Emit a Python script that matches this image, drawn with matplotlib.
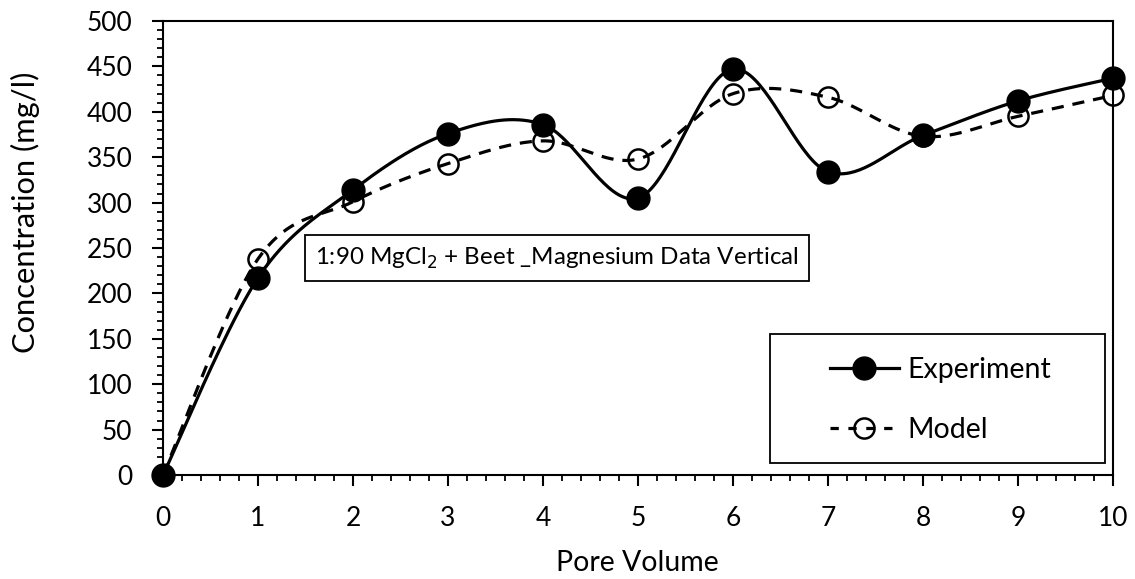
import numpy as np
import matplotlib.pyplot as plt
from matplotlib.lines import Line2D
from matplotlib.patches import Rectangle
from matplotlib.ticker import MultipleLocator

plt.rcParams['font.family'] = ['Lato', 'DejaVu Sans']

pore_volume = [0, 1, 2, 3, 4, 5, 6, 7, 8, 9, 10]
experiment = [0, 217, 314, 376, 386, 305, 447, 334, 374, 412, 437]
model = [0, 238, 301, 343, 368, 348, 420, 416, 373, 395, 418]

W, H = 1135, 579


def smooth_curve(x, y, n=40):
    """Bezier smoothing through every point, like a spreadsheet 'smoothed line'."""
    pts = np.column_stack([np.asarray(x, float), np.asarray(y, float)])
    out = []
    for i in range(len(pts) - 1):
        p0 = pts[max(i - 1, 0)]
        p1 = pts[i]
        p2 = pts[i + 1]
        p3 = pts[min(i + 2, len(pts) - 1)]
        c1 = p1 + (p2 - p0) / 6.0
        c2 = p2 - (p3 - p1) / 6.0
        t = np.linspace(0, 1, n)[:, None]
        seg = ((1 - t) ** 3) * p1 + 3 * ((1 - t) ** 2) * t * c1 + 3 * (1 - t) * t ** 2 * c2 + t ** 3 * p2
        out.append(seg if i == 0 else seg[1:])
    seg = np.vstack(out)
    return seg[:, 0], seg[:, 1]


def fit_length(txt, length_px, vertical=False):
    """Rescale a text's font so its rendered run is length_px long."""
    r = fig.canvas.get_renderer()
    bb = txt.get_window_extent(r)
    cur = bb.height if vertical else bb.width
    txt.set_fontsize(txt.get_fontsize() * length_px / cur)


fig = plt.figure(figsize=(W / 100, H / 100), dpi=100)
ax = fig.add_axes([163 / W, 1 - 475 / H, (1113 - 163) / W, (475 - 21) / H])

lw = 2.3
dash = (3.8, 2.8)
ms_exp = 16.5
ms_mod = 14.5

xs, ys = smooth_curve(pore_volume, model)
ax.plot(xs, ys, color='black', lw=lw, linestyle=(0, dash), dash_capstyle='butt', zorder=2)
ax.plot(pore_volume, model, linestyle='none', marker='o', markersize=ms_mod,
        markerfacecolor='none', markeredgecolor='black', markeredgewidth=1.8,
        clip_on=False, zorder=3)

xs, ys = smooth_curve(pore_volume, experiment)
ax.plot(xs, ys, color='black', lw=lw, zorder=4)
ax.plot(pore_volume, experiment, linestyle='none', marker='o', markersize=ms_exp,
        color='black', clip_on=False, zorder=5)

ax.set_xlim(0, 10)
ax.set_ylim(0, 500)
ax.xaxis.set_major_locator(MultipleLocator(1))
ax.xaxis.set_minor_locator(MultipleLocator(0.2))
ax.yaxis.set_major_locator(MultipleLocator(50))
ax.yaxis.set_minor_locator(MultipleLocator(10))
ax.tick_params(which='major', direction='out', length=8, width=1.5, labelsize=19, pad=14)
ax.tick_params(which='minor', direction='out', length=4.5, width=1.3)
for s in ax.spines.values():
    s.set_linewidth(1.5)

ax.set_xlabel('Pore Volume', fontsize=20.5)
ax.xaxis.set_label_coords(0.4995, (475 - 563) / 454)
ax.xaxis.label.set_va('center')

# y label placed in figure pixels (centre x=25, runs from y=72 to y=353 from the top)
ylab = fig.text(25 / W, 1 - (72 + 353) / 2 / H, 'Concentration (mg/l)', rotation=90,
                ha='center', va='center', fontsize=18)
fit_length(ylab, 353 - 72, vertical=True)

note = ax.text((557 - 163) / 950, (475 - 258) / 454,
               r'1:90 MgCl$_2$ + Beet _Magnesium Data Vertical',
               transform=ax.transAxes, fontsize=18, ha='center', va='center',
               bbox=dict(boxstyle='square,pad=0.42', facecolor='white', edgecolor='black', lw=1.3),
               zorder=6)
fit_length(note, 484)

# legend frame drawn separately so its padding can be set freely
lx0, lx1 = (770 - 163) / 950, (1105 - 163) / 950
ly0, ly1 = (475 - 463) / 454, (475 - 334) / 454
ax.add_patch(Rectangle((lx0, ly0), lx1 - lx0, ly1 - ly0, transform=ax.transAxes,
                       facecolor='white', edgecolor='black', lw=1.3, zorder=6))
handles = [
    Line2D([], [], color='black', lw=lw, marker='o', markersize=ms_exp),
    Line2D([], [], color='black', lw=lw, linestyle=(0, (2.6, 3.0)), dash_capstyle='butt',
           marker='o', markersize=ms_mod, markerfacecolor='none', markeredgewidth=1.8),
]
leg = ax.legend(handles, ['Experiment', 'Model'], loc='center',
                bbox_to_anchor=((lx0 + lx1) / 2 + 0.003, (ly0 + ly1) / 2 - 0.004), fontsize=20.5,
                frameon=False, handlelength=2.45, labelspacing=1.2,
                handletextpad=0.28, borderpad=0, borderaxespad=0)
leg.set_zorder(7)

plt.savefig('out.png', dpi=100)
